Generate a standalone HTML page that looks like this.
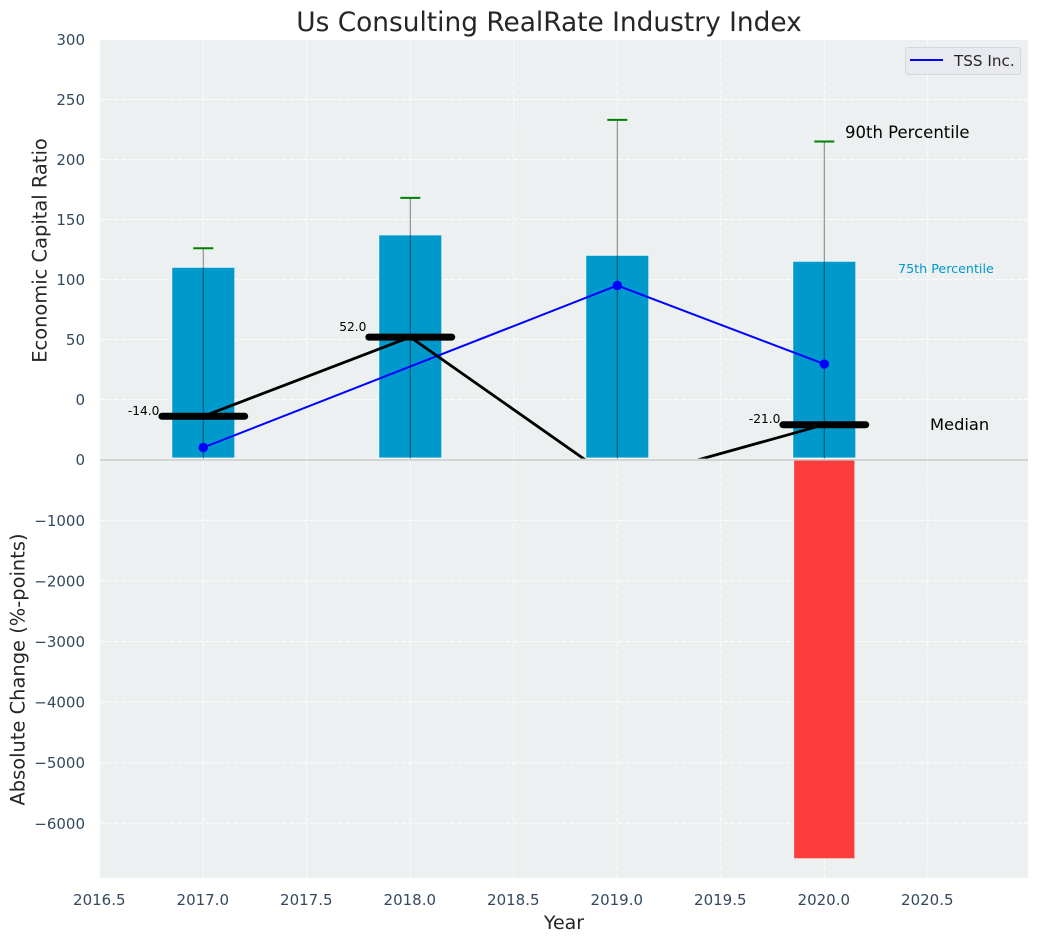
<!DOCTYPE html>
<html>
<head>
<meta charset="utf-8">
<title>Us Consulting RealRate Industry Index</title>
<style>
html,body{margin:0;padding:0;background:#fff;}
svg{display:block;font-family:"DejaVu Sans","Liberation Sans",sans-serif;}
</style>
</head>
<body>
<svg id="chart" xmlns="http://www.w3.org/2000/svg" width="1039" height="942" viewBox="0 0 1039 942">
  <defs>
    <clipPath id="clip-top"><rect x="100" y="40" width="928" height="418.6"/></clipPath>
    <clipPath id="clip-bottom"><rect x="100" y="460" width="928" height="418"/></clipPath>
  </defs>
  <rect x="0" y="0" width="1039" height="942" fill="#ffffff"/>
  <rect x="100" y="40" width="928" height="418.6" fill="#ecf0f1"/>
  <rect x="100" y="460" width="928" height="418" fill="#ecf0f1"/>
  <g id="grid-top" clip-path="url(#clip-top)"></g>
  <g id="grid-bottom" clip-path="url(#clip-bottom)"></g>
  <g id="marks-bottom" clip-path="url(#clip-bottom)"></g>
  <g id="marks-top" clip-path="url(#clip-top)"></g>
  <rect x="100" y="459.2" width="928" height="1.4" fill="#c4c6c7"/>
  <g id="x-ticks"></g>
  <g id="y-ticks-top"></g>
  <g id="y-ticks-bottom"></g>
  <text x="549" y="31" text-anchor="middle" font-size="26.4" fill="#262626">Us Consulting RealRate Industry Index</text>
  <text x="564" y="929" text-anchor="middle" font-size="19" fill="#262626">Year</text>
  <text transform="translate(46.5,250.5) rotate(-90)" text-anchor="middle" font-size="19.44" fill="#262626">Economic Capital Ratio</text>
  <text transform="translate(24.5,669.5) rotate(-90)" text-anchor="middle" font-size="19.44" fill="#262626">Absolute Change (%-points)</text>
  <text x="845" y="138" font-size="16.5" fill="#000000">90th Percentile</text>
  <text x="898" y="273" font-size="12.7" fill="#0099cc">75th Percentile</text>
  <text x="930" y="430" font-size="16.3" fill="#000000">Median</text>
  <g>
    <rect x="905.5" y="47.5" width="115" height="27" rx="3" fill="#e8eaf0" stroke="#d5d7db" stroke-width="1"/>
    <line x1="910" y1="60" x2="943" y2="60" stroke="#0000ff" stroke-width="2"/>
    <text x="954" y="66" font-size="15.2" fill="#262626">TSS Inc.</text>
  </g>
</svg>
<script>
const years = [2017, 2018, 2019, 2020];
const p75Values = [110, 137, 120, 115];
const p90Values = [126, 168, 233, 215];
const medianValues = [-14, 52, -69, -21];
const tssValues = [-40, null, 95, 29.5];
const absoluteChangeValues = [null, null, null, -6580];
const xTickLabels = [2016.5, 2017, 2017.5, 2018, 2018.5, 2019, 2019.5, 2020, 2020.5];
const yTopTickLabels = [0, 50, 100, 150, 200, 250, 300];
const yBottomTickLabels = [0, -1000, -2000, -3000, -4000, -5000, -6000];

const SVG_NS = 'http://www.w3.org/2000/svg';
const xScale = v => 203.3 + (v - 2017) * 207;
const yTop = v => 399.5 - v * 1.2;
const yBottom = v => 459.7 - v * 0.0606;
const xDelta = d => d * 207;
const BAR_WIDTH = 0.3;
const BAR_BASE = -48.6;
const WHISKER_BASE = -50;
const CAP_HALF = 10;
const MEDIAN_HALF = 0.2;

function make(parent, tag, attrs, content) {
  const el = document.createElementNS(SVG_NS, tag);
  for (const k in attrs) el.setAttribute(k, attrs[k]);
  if (content !== undefined) el.textContent = content;
  parent.appendChild(el);
  return el;
}
const gridTop = document.getElementById('grid-top');
const gridBottom = document.getElementById('grid-bottom');
const marksTop = document.getElementById('marks-top');
const marksBottom = document.getElementById('marks-bottom');
const xTicks = document.getElementById('x-ticks');
const yTicksTop = document.getElementById('y-ticks-top');
const yTicksBottom = document.getElementById('y-ticks-bottom');
const gridStyle = {stroke: '#ffffff', 'stroke-width': 1, 'stroke-dasharray': '5 2', opacity: 0.85};
const tickStyle = {'font-size': 15, fill: '#34495e'};

xTickLabels.forEach(v => {
  const x = xScale(v);
  const a = make(gridTop, 'line', {x1: x, x2: x, y1: 40, y2: 459, ...gridStyle});
  
  
  const b = make(gridBottom, 'line', {x1: x, x2: x, y1: 460, y2: 878, ...gridStyle});
  
  
  const t = make(xTicks, 'text', {x: x - 0.5, y: 905, 'text-anchor': 'middle', ...tickStyle}, v.toFixed(1));
  
  
});

yTopTickLabels.forEach(v => {
  const y = yTop(v);
  const g = make(gridTop, 'line', {x1: 100, x2: 1028, y1: y, y2: y, ...gridStyle});
  
  
  const t = make(yTicksTop, 'text', {x: 85, y: y + 5.5, 'text-anchor': 'end', ...tickStyle}, String(v));
  
  
});

yBottomTickLabels.forEach(v => {
  const y = yBottom(v);
  if (v !== 0) {
    const g = make(gridBottom, 'line', {x1: 100, x2: 1028, y1: y, y2: y, ...gridStyle});
    
    
  }
  const label = v < 0 ? '\u2212' + Math.abs(v) : String(v);
  const t = make(yTicksBottom, 'text', {x: 85, y: y + 5.5, 'text-anchor': 'end', ...tickStyle}, label);
  
  
});

years.forEach((yr, i) => {
  const v = absoluteChangeValues[i];
  if (v === null) return;
  const w = xDelta(BAR_WIDTH) - 1.5;
  const r = make(marksBottom, 'rect', {x: xScale(yr) - w / 2, y: yBottom(0), width: w, height: yBottom(v) - yBottom(0), fill: '#ff0000', 'fill-opacity': 0.75, stroke: '#ffffff', 'stroke-opacity': 0.3, 'stroke-width': 1});
  
  
});

years.forEach((yr, i) => {
  const w = xDelta(BAR_WIDTH) + 0.5;
  const top = yTop(p75Values[i]);
  const r = make(marksTop, 'rect', {x: xScale(yr) - w / 2, y: top, width: w, height: yTop(BAR_BASE) - top, fill: '#0099cc', stroke: '#ffffff', 'stroke-opacity': 0.45, 'stroke-width': 1});
  
  
});

function linePath(values) {
  let d = '';
  years.forEach((yr, i) => {
    if (values[i] === null) return;
    d += (d ? 'L' : 'M') + xScale(yr) + ' ' + yTop(values[i]);
  });
  return d;
}

const tssLine = make(marksTop, 'path', {d: linePath(tssValues), fill: 'none', stroke: '#0000ff', 'stroke-width': 2});



const medianLine = make(marksTop, 'path', {d: linePath(medianValues), fill: 'none', stroke: '#000000', 'stroke-width': 2.8});



years.forEach((yr, i) => {
  const x = xScale(yr);
  const wh = make(marksTop, 'line', {x1: x, x2: x, y1: yTop(WHISKER_BASE), y2: yTop(p90Values[i]), stroke: '#000000', 'stroke-opacity': 0.45, 'stroke-width': 1.1});
  
  
  const cap = make(marksTop, 'line', {x1: x - CAP_HALF, x2: x + CAP_HALF, y1: yTop(p90Values[i]), y2: yTop(p90Values[i]), stroke: '#008000', 'stroke-width': 2});
  
  
  const y = yTop(medianValues[i]);
  const m = make(marksTop, 'line', {x1: xScale(yr - MEDIAN_HALF), x2: xScale(yr + MEDIAN_HALF), y1: y, y2: y, stroke: '#000000', 'stroke-width': 7, 'stroke-linecap': 'round'});
  
  
  const labelLift = medianValues[i] > 0 ? 6 : 1.5;
  const t = make(marksTop, 'text', {x: xScale(yr - MEDIAN_HALF) - 2.5, y: y - labelLift, 'text-anchor': 'end', 'font-size': 12.2, fill: '#000000'}, medianValues[i].toFixed(1));
  
  
  if (tssValues[i] !== null) {
    const c = make(marksTop, 'circle', {cx: x, cy: yTop(tssValues[i]), r: 4.7, fill: '#0000ff'});
    
    
  }
});
</script>
</body>
</html>
